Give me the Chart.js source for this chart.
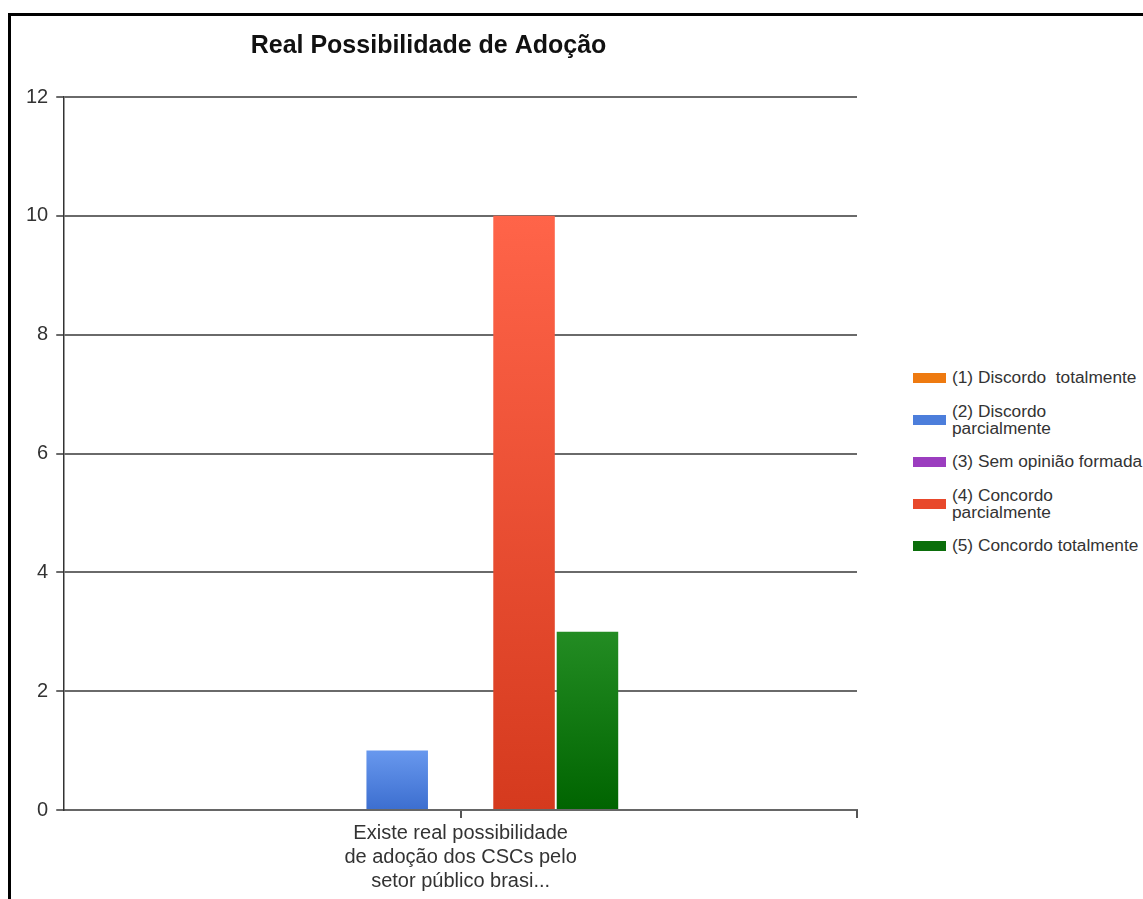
<!DOCTYPE html>
<html lang="pt-BR">
<head>
<meta charset="utf-8">
<title>Real Possibilidade de Adoção</title>
<script src="https://cdn.jsdelivr.net/npm/chart.js@4.4.1/dist/chart.umd.min.js"></script>
<style>
    html, body { margin: 0; padding: 0; background: #fff; overflow: hidden; }
    body { width: 1143px; height: 899px; position: relative; font-family: "Liberation Sans", Arial, sans-serif; }
    #moldura {
        position: absolute; left: 8px; top: 13px; width: 2000px; height: 2000px;
        border-left: 3px solid #000; border-top: 3px solid #000; pointer-events: none;
    }
    #caixaGrafico { position: absolute; left: 0; top: 0; width: 860px; height: 899px; }
    #legenda { position: absolute; left: 913px; top: 357px; width: 230px; }
    .item { display: flex; align-items: center; height: 42px; }
    .amostra { width: 33px; height: 10px; flex: none; margin-right: 6px; }
    .texto { font-size: 17.3px; line-height: 1.0; color: #333; white-space: pre-wrap; width: 196px; }
</style>
</head>
<body>
<div id="caixaGrafico"><canvas id="graficoBarra"></canvas></div>
<div id="legenda"></div>
<div id="moldura"></div>
<script>
    const titulo = 'Real Possibilidade de Adoção';
    const categorias = [['Existe real possibilidade', 'de adoção dos CSCs pelo', 'setor público brasi...']];
    const nomesSeries = [
        '(1) Discordo  totalmente',
        '(2) Discordo parcialmente',
        '(3) Sem opinião formada',
        '(4) Concordo parcialmente',
        '(5) Concordo totalmente'
    ];
    const valores = [[0], [1], [0], [10], [3]];
    const ticksY = [0, 2, 4, 6, 8, 10, 12];

    // cor clara (topo) e escura (base) de cada série
    const coresTopo = ['#F5891F', '#6898EE', '#A84CCB', '#FF6449', '#238C23'];
    const coresBase = ['#E06A00', '#3C6ECF', '#8A2DB0', '#D53A1E', '#006400'];
    const coresLegenda = ['#EE7A10', '#4C7EDB', '#9B3DBF', '#E8482B', '#0B6E0B'];

    function gradiente(indice) {
        return function (context) {
            const chart = context.chart;
            if (context.type !== 'data' || !chart.chartArea) return coresLegenda[indice];
            const y = chart.scales.y;
            const topo = y.getPixelForValue(context.raw);
            const base = y.getPixelForValue(0);
            if (base - topo < 1) return coresLegenda[indice];
            const g = chart.ctx.createLinearGradient(0, topo, 0, base);
            g.addColorStop(0, coresTopo[indice]);
            g.addColorStop(1, coresBase[indice]);
            return g;
        };
    }

    const datasets = nomesSeries.map((nome, i) => ({
        label: nome,
        data: valores[i],
        backgroundColor: gradiente(i),
        borderWidth: 0,
        categoryPercentage: 0.4,
        barPercentage: 0.97
    }));

    // tracinho no fim do eixo X
    const marcaFimEixo = {
        id: 'marcaFimEixo',
        afterDraw(chart) {
            const a = chart.chartArea;
            const c = chart.ctx;
            c.save();
            c.strokeStyle = '#555';
            c.lineWidth = 2;
            c.beginPath();
            c.moveTo(a.right, a.bottom);
            c.lineTo(a.right, a.bottom + 8);
            c.stroke();
            c.restore();
        }
    };

    Chart.defaults.font.family = '"Liberation Sans", Arial, sans-serif';
    Chart.defaults.color = '#222';

    new Chart(document.getElementById('graficoBarra'), {
        type: 'bar',
        data: { labels: categorias, datasets },
        plugins: [marcaFimEixo],
        options: {
            responsive: true,
            maintainAspectRatio: false,
            animation: false,
            layout: { padding: { left: 0, right: 3, top: 0, bottom: 3 } },
            plugins: {
                legend: { display: false },
                tooltip: { enabled: false },
                title: {
                    display: true,
                    text: titulo,
                    color: '#111',
                    font: { size: 25, weight: 'bold' },
                    padding: { top: 31, bottom: 36 }
                }
            },
            scales: {
                x: {
                    grid: { display: true, drawOnChartArea: false, offset: false, tickLength: 8, color: '#555', lineWidth: 2 },
                    border: { display: true, color: '#666', width: 2 },
                    ticks: { font: { size: 20, lineHeight: 1.2 }, padding: 3, color: '#333' }
                },
                y: {
                    min: 0,
                    max: 12,
                    afterBuildTicks: (scale) => { scale.ticks = ticksY.map(v => ({ value: v })); },
                    afterFit: (scale) => { scale.width += 18; },
                    grid: { color: '#6a6a6a', lineWidth: 2, tickLength: 8 },
                    border: { display: true, color: '#333', width: 1.5 },
                    ticks: { font: { size: 20 }, padding: 8, color: '#333' }
                }
            }
        }
    });

    // legenda em HTML (texto com quebra de linha como no original)
    const legenda = document.getElementById('legenda');
    nomesSeries.forEach((nome, i) => {
        const item = document.createElement('div');
        item.className = 'item';
        const amostra = document.createElement('div');
        amostra.className = 'amostra';
        amostra.style.background = coresLegenda[i];
        const texto = document.createElement('div');
        texto.className = 'texto';
        texto.textContent = nome;
        item.appendChild(amostra);
        item.appendChild(texto);
        legenda.appendChild(item);
    });
</script>
</body>
</html>
